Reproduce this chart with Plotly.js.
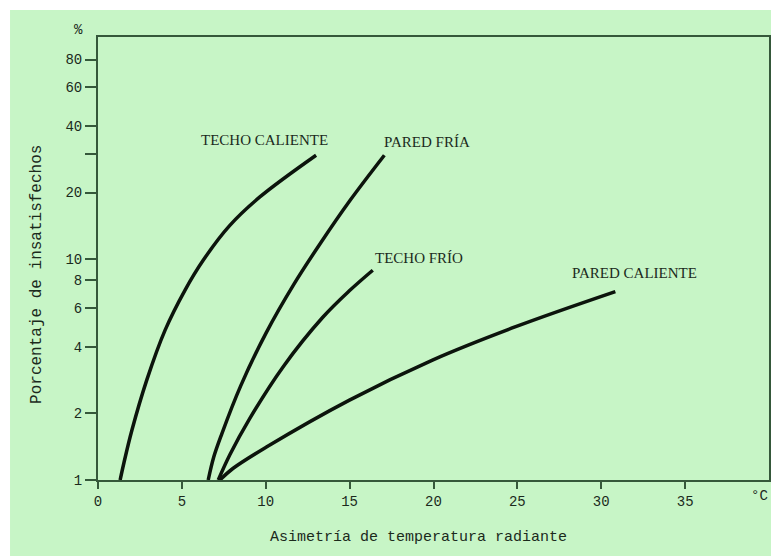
<!DOCTYPE html>
<html>
<head>
<meta charset="utf-8">
<script src="https://cdn.plot.ly/plotly-3.0.1.min.js"></script>
<style>html,body{margin:0;padding:0;background:#fff;}#chart{width:771px;height:556px;}</style>
</head>
<body>
<div id="chart"></div>
<script>
// Data (x: radiant temperature asymmetry, y: % dissatisfied)
const techoCalienteX = [1.32, 1.55, 2.02, 2.91, 4.0, 5.19, 6.28, 7.86, 9.65, 13.0];
const techoCalienteY = [1.0, 1.2, 1.68, 2.84, 4.77, 7.24, 9.9, 14.2, 19.1, 29.5];

const paredFriaX = [6.57, 6.9, 7.37, 8.5, 10.0, 11.7, 13.23, 15.02, 17.07];
const paredFriaY = [1.0, 1.27, 1.61, 2.66, 4.6, 7.74, 11.7, 18.4, 29.5];

const techoFrioX = [7.17, 7.86, 9.05, 11.03, 13.4, 15.0, 16.38];
const techoFrioY = [1.0, 1.30, 1.90, 3.25, 5.45, 7.2, 8.9];

const paredCalienteX = [7.27, 8.06, 10.04, 14.99, 19.94, 24.9, 30.84];
const paredCalienteY = [1.0, 1.13, 1.41, 2.30, 3.49, 4.94, 7.12];

const seriesNames = ["TECHO CALIENTE", "PARED FRÍA", "TECHO FRÍO", "PARED CALIENTE"];

const xTickVals = [0, 5, 10, 15, 20, 25, 30, 35];
const xTickText = ["0", "5", "10", "15", "20", "25", "30", "35"];
const yTickVals = [1, 2, 4, 6, 8, 10, 20, 30, 40, 60, 80];
const yTickText = ["1", "2", "4", "6", "8", "10", "20", "", "40", "60", "80"];

const xTitle = "Asimetría de temperatura radiante";
const yTitle = "Porcentaje de insatisfechos";
const yUnit = "%";
const xUnit = "°C";

const lineStyle = {color: "#0c140c", width: 3.5, shape: "spline", smoothing: 1};
const seriesX = [techoCalienteX, paredFriaX, techoFrioX, paredCalienteX];
const seriesY = [techoCalienteY, paredFriaY, techoFrioY, paredCalienteY];

const traces = seriesNames.map((n, i) => ({
  type: "scatter", mode: "lines", name: n,
  x: seriesX[i], y: seriesY[i], line: lineStyle, hoverinfo: "skip"
}));

// label anchor points (near curve ends)
const labelPos = [
  {x: 9.9, y: 1.538},
  {x: 19.6, y: 1.529},
  {x: 19.15, y: 1.005},
  {x: 32.0, y: 0.937}
];

const axisColor = "#35583a";
const textColor = "#1b2a1c";
const monoFont = {family: "Liberation Mono, DejaVu Sans Mono, monospace", size: 14, color: textColor};
const serifFont = {family: "Liberation Serif, DejaVu Serif, serif", size: 15, color: textColor};

const annotations = seriesNames.map((n, i) => ({
  text: n, x: labelPos[i].x, y: labelPos[i].y, xref: "x", yref: "y",
  showarrow: false, font: serifFont, xanchor: "center", yanchor: "middle"
}));
annotations.push(
  {text: xTitle, xref: "paper", yref: "paper", x: 0.477, y: -0.1287, showarrow: false,
   font: {family: monoFont.family, size: 15, color: textColor}, xanchor: "center", yanchor: "middle"},
  {text: yTitle, xref: "paper", yref: "paper", x: -0.0909, y: 0.463, showarrow: false, textangle: -90,
   font: {family: monoFont.family, size: 16, color: textColor}, xanchor: "center", yanchor: "middle"},
  {text: yUnit, xref: "paper", yref: "paper", x: -0.0298, y: 1.0158, showarrow: false,
   font: monoFont, xanchor: "center", yanchor: "middle"},
  {text: xUnit, xref: "paper", yref: "paper", x: 1.0015, y: -0.036, showarrow: false,
   font: monoFont, xanchor: "right", yanchor: "middle"}
);

const layout = {
  width: 771, height: 556,
  margin: {l: 98, r: 2, t: 37, b: 76, pad: 0},
  paper_bgcolor: "#ffffff",
  plot_bgcolor: "rgba(0,0,0,0)",
  showlegend: false,
  shapes: [{type: "rect", xref: "paper", yref: "paper", x0: -0.1311, x1: 1.02, y0: -0.2, y1: 1.061,
            fillcolor: "#c7f5c6", line: {width: 0}, layer: "below"}],
  xaxis: {
    range: [0, 40], tickvals: xTickVals, ticktext: xTickText,
    showgrid: false, zeroline: false, showline: true, mirror: true,
    linecolor: axisColor, linewidth: 2, ticks: "outside", ticklen: 7, tickwidth: 2, tickcolor: axisColor,
    tickfont: monoFont
  },
  yaxis: {
    type: "log", range: [0, 2.005], tickvals: yTickVals, ticktext: yTickText,
    showgrid: false, zeroline: false, showline: true, mirror: true,
    linecolor: axisColor, linewidth: 2, ticks: "outside", ticklen: 11, tickwidth: 2, tickcolor: axisColor,
    tickfont: monoFont
  },
  annotations: annotations
};

Plotly.newPlot("chart", traces, layout, {staticPlot: true, displayModeBar: false});
</script>
</body>
</html>
